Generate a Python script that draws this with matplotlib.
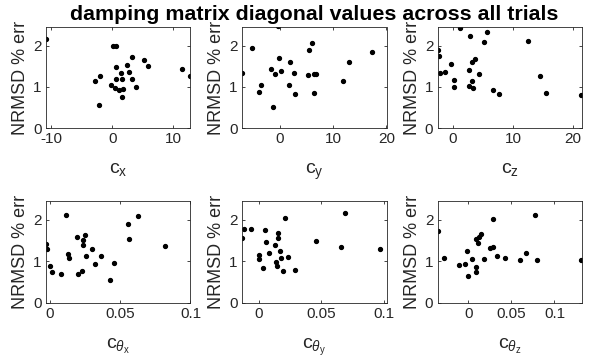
import numpy as np
import matplotlib
matplotlib.use('Agg')
import matplotlib.pyplot as plt

plt.rcParams['font.family'] = ['Liberation Sans', 'DejaVu Sans']
plt.rcParams['mathtext.fontset'] = 'custom'
plt.rcParams['mathtext.rm'] = 'Liberation Sans'
plt.rcParams['mathtext.it'] = 'Liberation Sans:italic'

# damping diagonal values (x) and NRMSD % error (y) per trial
c_x = [-10.9, -2.75, -2.0, -2.1, -0.2, 0.16, 0.7, 0.44, 0.55, 0.6, 1.15, 1.5,
       1.65, 1.65, 1.8, 2.5, 2.8, 3.2, 3.2, 4.0, 5.2, 5.9, 11.5, 12.9]
err_x = [2.17, 1.13, 1.27, 0.57, 1.04, 1.98, 1.98, 0.96, 1.49, 1.20, 0.91, 1.34,
         1.20, 0.74, 0.94, 1.53, 1.36, 1.18, 1.72, 1.00, 1.64, 1.50, 1.44, 1.26]

c_y = [-7.05, -5.1, -3.84, -3.4, -1.57, -0.82, -1.2, -0.31, -0.13, 0.19, 1.76, 2.01,
       2.70, 2.96, 5.28, 5.53, 6.10, 6.42, 6.42, 6.79, 11.9, 12.96, 17.36]
err_y = [1.33, 1.93, 0.88, 1.04, 1.42, 1.31, 0.51, 2.47, 1.69, 1.39, 1.05, 1.61,
         1.34, 0.82, 1.29, 1.89, 2.07, 0.85, 1.32, 1.32, 1.15, 1.60, 1.85]

c_z = [-2.6, -2.4, -2.1, -1.3, -0.3, 0.2, 0.2, 1.2, 2.6, 2.7, 2.9, 3.1,
       3.2, 3.3, 3.7, 4.4, 5.1, 5.6, 6.7, 7.7, 12.5, 14.5, 15.5, 21.4]
err_z = [1.89, 1.74, 1.33, 1.37, 1.55, 1.16, 1.00, 2.42, 1.03, 1.40, 2.23, 1.60,
         1.13, 0.98, 1.67, 1.32, 2.09, 2.33, 0.91, 0.83, 2.12, 1.26, 0.86, 0.81]

c_tx = [-0.0026, -0.0019, 0.0002, 0.0019, 0.0081, 0.0116, 0.0133, 0.0140,
        0.0197, 0.0201, 0.0232, 0.0235, 0.0239, 0.0251, 0.0256, 0.0301,
        0.0320, 0.0365, 0.0431, 0.0460, 0.0559, 0.0562, 0.0626, 0.0818]
err_tx = [1.42, 1.29, 0.90, 0.74, 0.70, 2.11, 1.18, 1.08, 1.58, 0.70, 0.78, 1.39,
          1.52, 1.64, 1.14, 1.30, 0.93, 1.14, 0.56, 0.97, 1.89, 1.54, 2.10, 1.36]

c_ty = [-0.0135, -0.012, -0.0066, -0.0003, 0.0, 0.0036, 0.0046, 0.0055, 0.008,
        0.013, 0.014, 0.0145, 0.015, 0.0156, 0.0172, 0.0178, 0.019, 0.021,
        0.023, 0.0287, 0.046, 0.0656, 0.0686, 0.097]
err_ty = [1.55, 1.77, 1.77, 1.16, 1.05, 0.83, 1.75, 1.46, 1.21, 1.39, 0.98, 0.88,
          1.57, 1.69, 1.25, 1.08, 0.78, 2.05, 1.10, 0.79, 1.49, 1.35, 2.15, 1.29]

c_tz = [-0.036, -0.029, -0.011, -0.0035, -0.0016, 0.0, 0.0043, 0.0085, 0.009,
        0.009, 0.011, 0.012, 0.0143, 0.018, 0.025, 0.028, 0.029, 0.0326, 0.043,
        0.060, 0.067, 0.077, 0.080, 0.131]
err_tz = [1.72, 1.08, 0.92, 0.93, 1.26, 0.64, 1.05, 0.86, 0.75, 1.53, 1.43, 1.58,
          1.65, 1.05, 1.32, 2.02, 1.35, 1.12, 1.09, 1.03, 1.20, 2.12, 1.04, 1.03]

xs = [c_x, c_y, c_z, c_tx, c_ty, c_tz]
ys = [err_x, err_y, err_z, err_tx, err_ty, err_tz]
xlabels = [r'$\mathrm{c_{x}}$', r'$\mathrm{c_{y}}$', r'$\mathrm{c_{z}}$',
           r'$\mathrm{c}_{\theta_{\mathrm{x}}}$', r'$\mathrm{c}_{\theta_{\mathrm{y}}}$',
           r'$\mathrm{c}_{\theta_{\mathrm{z}}}$']
xlims = [(-10.9, 12.9), (-7.05, 20), (-2.6, 21.5),
         (-0.0026, 0.1), (-0.0135, 0.102), (-0.036, 0.132)]
xticks = [[-10, 0, 10], [0, 10, 20], [0, 10, 20],
          [0, 0.05, 0.1], [0, 0.05, 0.1], [0, 0.05, 0.1]]
xticklabels = [['-10', '0', '10'], ['0', '10', '20'], ['0', '10', '20'],
               ['0', '0.05', '0.1'], ['0', '0.05', '0.1'], ['0', '0.05', '0.1']]

W, H = 592, 360
fig = plt.figure(figsize=(W / 100, H / 100), dpi=100)

lefts = [46, 242, 437.5]
width = 144.5
rows = [(27, 128), (201, 303)]

axes = []
for i in range(6):
    r, c = divmod(i, 3)
    top, bot = rows[r]
    ax = fig.add_axes([lefts[c] / W, 1 - bot / H, width / W, (bot - top) / H])
    ax.plot(xs[i], ys[i], 'o', color='black', ms=2.8, mec='black', clip_on=True)
    ax.set_xlim(*xlims[i])
    ax.set_ylim(0, 2.45)
    ax.set_xticks(xticks[i])
    ax.set_xticklabels(xticklabels[i])
    ax.set_yticks([0, 1, 2])
    ax.tick_params(direction='in', top=True, right=True, length=2.5, width=0.6,
                   labelsize=11, colors='#262626', pad=3)
    for s in ax.spines.values():
        s.set_color('#262626')
        s.set_linewidth(0.6)
    ax.set_ylabel('NRMSD % err', fontsize=13, color='#262626', labelpad=3)
    ax.set_xlabel(xlabels[i], fontsize=14, color='#262626', labelpad=11)
    axes.append(ax)

axes[1].set_title('damping matrix diagonal values across all trials',
                  fontsize=15.4, fontweight='bold', pad=5)

fig.savefig('out.png', dpi=100, facecolor='white')
